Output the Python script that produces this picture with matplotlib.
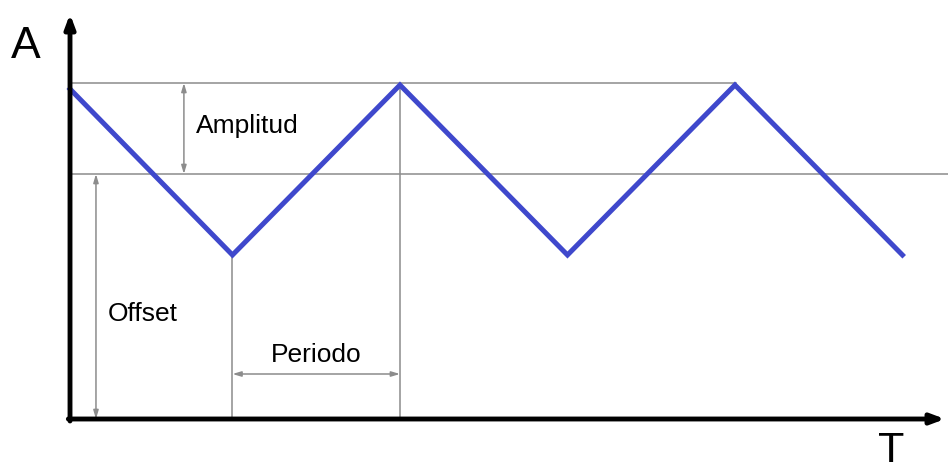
import matplotlib.pyplot as plt

# Triangle wave (t in half-periods, value in arbitrary units)
wave_t = [0.03, 1, 2, 3, 4, 5]
wave_v = [3.30, 1.64, 3.34, 1.64, 3.34, 1.64]

offset = 2.45
amp_top = 3.36
t_start = 0.03

fig = plt.figure(figsize=(9.48, 4.64), dpi=100)
ax = fig.add_axes([0, 0, 1, 1])
ax.set_xlim(-0.388, 5.272)
ax.set_ylim(-0.44, 4.20)
ax.axis("off")

gray = "#8c8c8c"

# guide lines
ax.plot([t_start, 4.006], [amp_top, amp_top], color=gray, lw=1.1)
ax.plot([t_start, 5.272], [offset, offset], color=gray, lw=1.1)
ax.plot([1, 1], [0, wave_v[1]], color=gray, lw=1.1)
ax.plot([2, 2], [0, amp_top], color=gray, lw=1.1)

# the wave
ax.plot(wave_t, wave_v, color="#3f48cc", lw=3.6, solid_joinstyle="miter")

# dimension arrows
dim = dict(arrowstyle="<|-|>,head_length=0.5,head_width=0.15", color=gray, lw=1.1,
           shrinkA=0, shrinkB=0)
ax.annotate("", xy=(0.71, amp_top), xytext=(0.71, offset), arrowprops=dim)
ax.annotate("", xy=(0.185, offset), xytext=(0.185, 0), arrowprops=dim)
ax.annotate("", xy=(1, 0.45), xytext=(2, 0.45), arrowprops=dim)

# main axes with arrows
axis = dict(arrowstyle="-|>,head_length=0.8,head_width=0.3", color="black", lw=3.5,
            shrinkA=0, shrinkB=0)
ax.annotate("", xy=(t_start, 4.05), xytext=(t_start, -0.02), arrowprops=axis)
ax.annotate("", xy=(5.254, 0), xytext=(t_start - 0.01, 0), arrowprops=axis)

font = ["Liberation Sans", "DejaVu Sans"]
ax.text(0.78, 2.94, "Amplitud", fontsize=19, family=font, va="center", ha="left")
ax.text(0.257, 1.06, "Offset", fontsize=19, family=font, va="center", ha="left")
ax.text(1.5, 0.65, "Periodo", fontsize=19, family=font, va="center", ha="center")
ax.text(-0.236, 3.73, "A", fontsize=32, family=font, va="center", ha="center")
ax.text(4.93, -0.315, "T", fontsize=31, family=font, va="center", ha="center")

fig.savefig("out.png", dpi=100)
